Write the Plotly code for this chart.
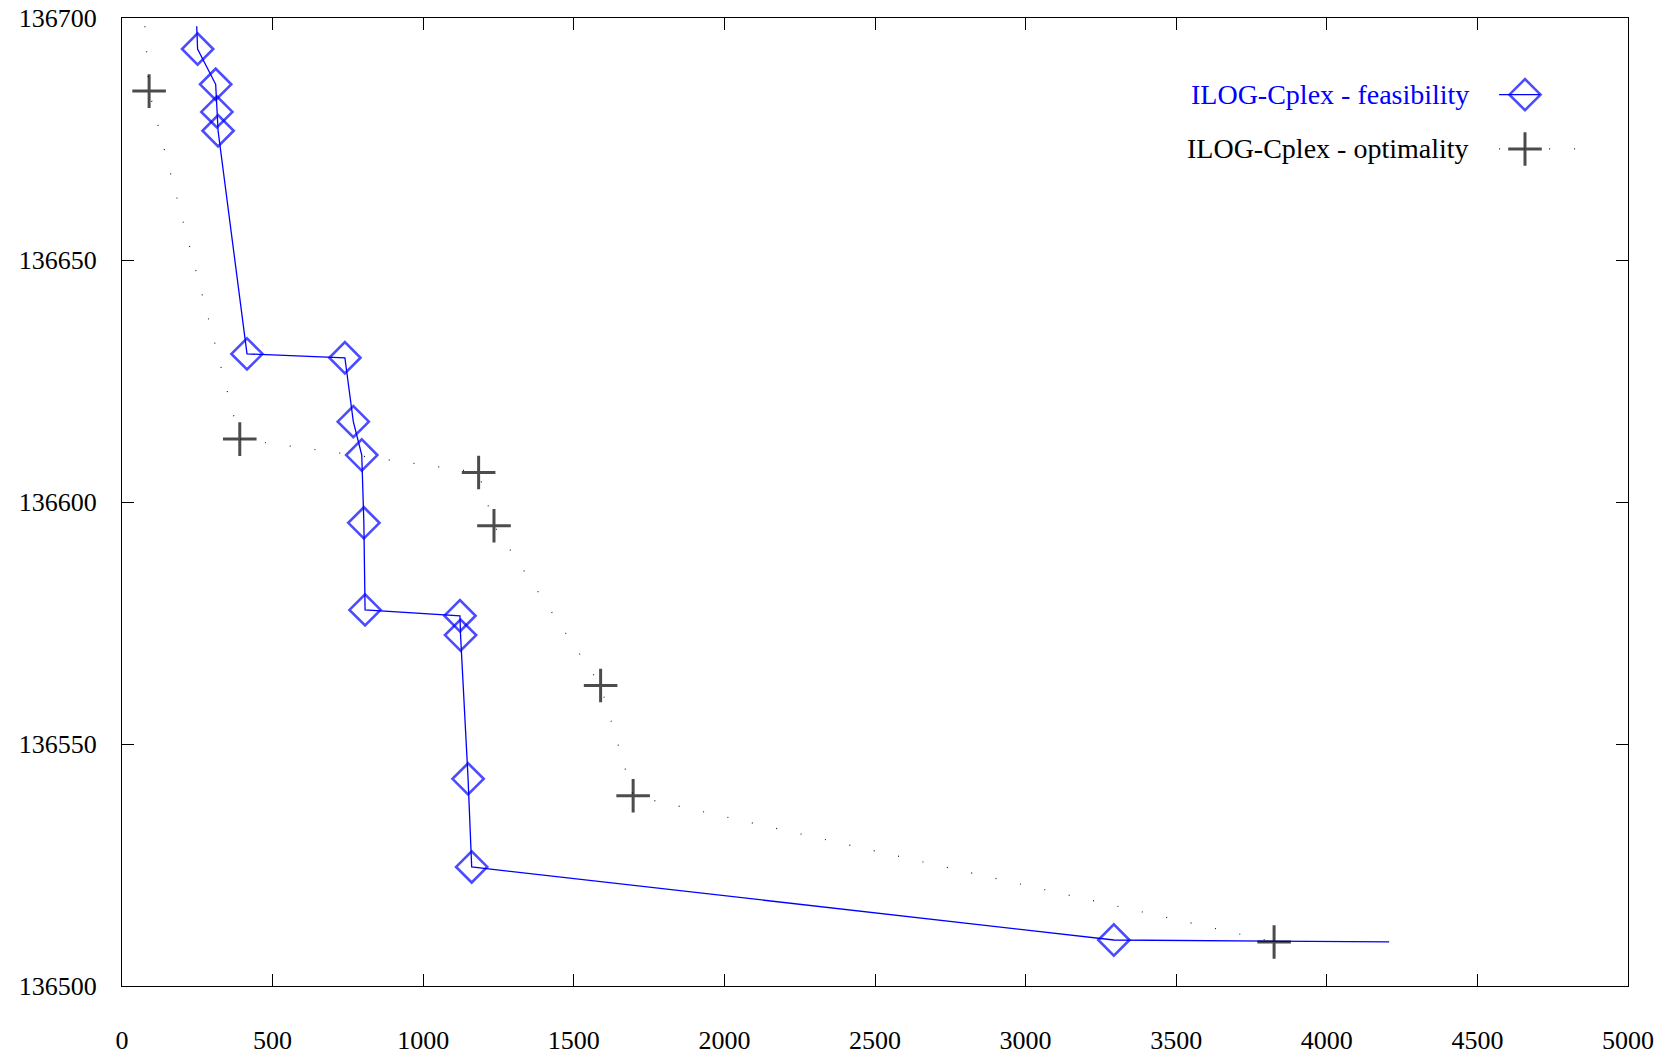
import plotly.graph_objects as go

# ---- data ----
feas_time = [248, 251, 311, 315, 319, 415, 740, 768, 796, 803, 807, 1122, 1124, 1149, 1161, 3293, 4207]
feas_obj = [136698.3, 136693.6, 136686.3, 136680.6, 136676.7, 136630.6, 136629.8, 136616.6, 136609.7,
            136595.7, 136577.7, 136576.5, 136572.5, 136542.8, 136524.6, 136509.5, 136509.1]
feas_marked = [False] + [True] * 15 + [False]

opt_time = [76, 90, 391, 1184, 1235, 1589, 1697, 3825]
opt_obj = [136698.3, 136684.9, 136613.0, 136606.1, 136595.1, 136562.1, 136539.3, 136509.1]
opt_marked = [False] + [True] * 7

x_ticks = [0, 500, 1000, 1500, 2000, 2500, 3000, 3500, 4000, 4500, 5000]
y_ticks = [136500, 136550, 136600, 136650, 136700]

series_names = ["ILOG-Cplex - feasibility", "ILOG-Cplex - optimality"]

BLUE = "#0000ff"
FONT = "Liberation Serif"
DIA = 24
CRS = 24

fig = go.Figure()

fig.add_trace(go.Scatter(
    x=feas_time, y=feas_obj, mode="lines+markers", name=series_names[0],
    line=dict(color=BLUE, width=1.3),
    marker=dict(symbol="diamond-open", size=[DIA if m else 0 for m in feas_marked],
                color=BLUE, line=dict(color=BLUE, width=2.6)),
    showlegend=False,
))
fig.add_trace(go.Scatter(
    x=opt_time, y=opt_obj, mode="lines+markers", name=series_names[1],
    line=dict(color="#222222", width=1.2, dash="1px,24px"),
    marker=dict(symbol="cross-thin-open", size=[CRS if m else 0 for m in opt_marked],
                color="black", line=dict(color="black", width=3)),
    showlegend=False,
))

# ---- custom legend (text left, sample right, as in the reference) ----
leg_y = [0.9208, 0.8647]
fig.add_trace(go.Scatter(
    x=[0.9144, 0.9316, 0.9416], y=[leg_y[0]] * 3, xaxis="x2", yaxis="y2",
    mode="lines+markers", line=dict(color=BLUE, width=1.3),
    marker=dict(symbol="diamond-open", size=[0, DIA, 0], color=BLUE,
                line=dict(color=BLUE, width=2.6)),
    showlegend=False, hoverinfo="skip",
))
fig.add_trace(go.Scatter(
    x=[0.9144, 0.9316, 0.9688], y=[leg_y[1]] * 3, xaxis="x2", yaxis="y2",
    mode="lines+markers", line=dict(color="#222222", width=1.2, dash="1px,24px"),
    marker=dict(symbol="cross-thin-open", size=[0, CRS, 0], color="black",
                line=dict(color="black", width=3)),
    showlegend=False, hoverinfo="skip",
))
for name, yy, col in zip(series_names, leg_y, [BLUE, "black"]):
    fig.add_annotation(x=0.8957, y=yy, xref="paper", yref="paper", text=name,
                       showarrow=False, xanchor="right", yanchor="middle",
                       font=dict(family=FONT, size=28, color=col))

axis_common = dict(
    showgrid=False, zeroline=False, showline=True, linecolor="black", linewidth=1.2,
    mirror="ticks", ticks="inside", ticklen=12, tickcolor="black", tickwidth=1,
    tickfont=dict(family=FONT, size=26, color="black"),
)
fig.update_layout(
    width=1669, height=1055,
    paper_bgcolor="white", plot_bgcolor="white",
    margin=dict(l=122, r=41, t=18, b=69, autoexpand=False),
    xaxis=dict(range=[0, 5000], tickvals=x_ticks, ticktext=[str(v) for v in x_ticks],
               ticklabelstandoff=31, **axis_common),
    yaxis=dict(range=[136500, 136700], tickvals=y_ticks, ticktext=[str(v) for v in y_ticks],
               ticklabelstandoff=19, **axis_common),
    xaxis2=dict(range=[0, 1], overlaying="x", visible=False, fixedrange=True),
    yaxis2=dict(range=[0, 1], overlaying="y", visible=False, fixedrange=True),
    showlegend=False,
)

# remove the default page margin so the figure sits at the window's top-left corner
fig.write_html(
    "out.html",
    config={"displayModeBar": False},
    post_script="document.body.style.margin='0';document.body.style.overflow='hidden';",
)
